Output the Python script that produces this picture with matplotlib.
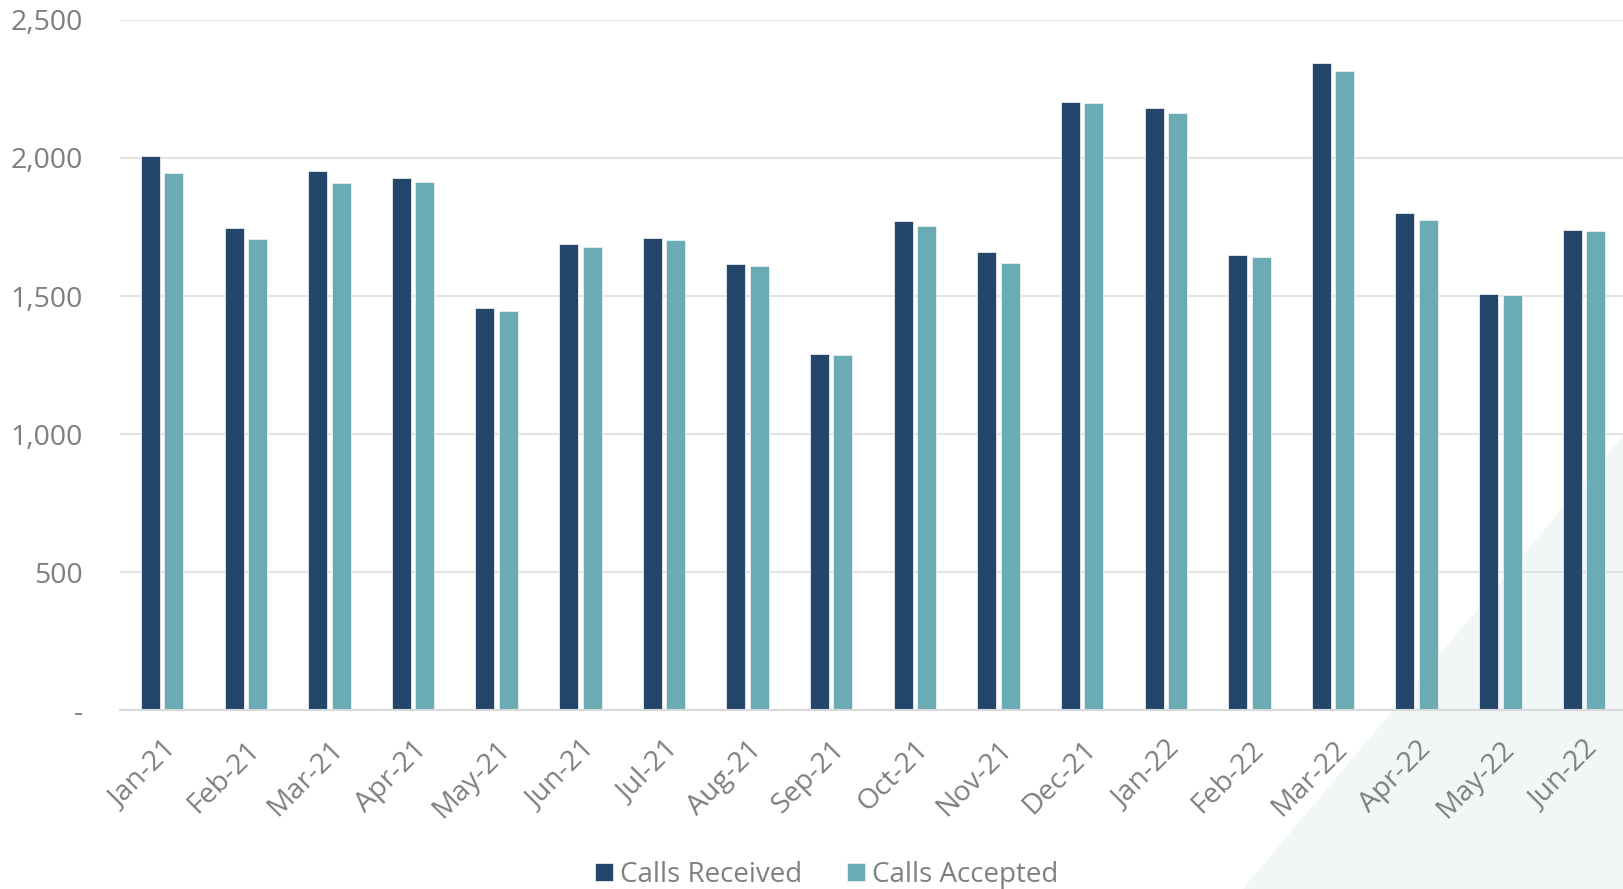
import matplotlib
matplotlib.use("Agg")
import matplotlib.pyplot as plt
from matplotlib.patches import Polygon
import numpy as np

months = ["Jan-21", "Feb-21", "Mar-21", "Apr-21", "May-21", "Jun-21",
          "Jul-21", "Aug-21", "Sep-21", "Oct-21", "Nov-21", "Dec-21",
          "Jan-22", "Feb-22", "Mar-22", "Apr-22", "May-22", "Jun-22"]
calls_received = [2006, 1746, 1953, 1929, 1455, 1688, 1711, 1617, 1289,
                  1770, 1660, 2204, 2179, 1650, 2345, 1802, 1506, 1738]
calls_accepted = [1945, 1707, 1908, 1911, 1446, 1678, 1702, 1608, 1285,
                  1755, 1620, 2197, 2164, 1640, 2316, 1776, 1503, 1734]
y_ticks = [0, 500, 1000, 1500, 2000, 2500]
y_tick_labels = ["-", "500", "1,000", "1,500", "2,000", "2,500"]

DARK = "#25466B"
TEAL = "#6AABB4"
TEXT = "#7F7F7F"
GRID = "#E3E3E3"

plt.rcParams["font.family"] = ["Open Sans", "DejaVu Sans"]

W, H = 1624, 889
fig = plt.figure(figsize=(W / 100, H / 100), dpi=100)
fig.patch.set_facecolor("white")

# background layer holding the pale wedge in the lower-right corner
bg = fig.add_axes([0, 0, 1, 1], zorder=-1)
bg.set_xlim(0, W)
bg.set_ylim(H, 0)
bg.axis("off")
bg.add_patch(Polygon([(1243, H), (W, 435), (W, H)], closed=True,
                     facecolor="#F1F6F6", edgecolor="none"))

ax = fig.add_axes([0.0741, 0.2008, 0.927, 0.7770], zorder=1)
ax.set_facecolor("none")

x = np.arange(len(months))
bw = 0.227
off = 0.14
ax.bar(x - off, calls_received, width=bw, color=DARK, edgecolor="#E8ECF0",
       linewidth=0.6, label="Calls Received", zorder=3)
ax.bar(x + off, calls_accepted, width=bw, color=TEAL, edgecolor="#E8F0F2",
       linewidth=0.6, label="Calls Accepted", zorder=3)

ax.set_xlim(-0.5, len(months) - 0.5)
ax.set_ylim(0, 2500)
ax.set_yticks(y_ticks)
ax.set_yticklabels(y_tick_labels)
ax.yaxis.grid(True, color=GRID, linewidth=1.5, zorder=0)
ax.set_axisbelow(True)

for side in ["top", "right", "left"]:
    ax.spines[side].set_visible(False)
ax.spines["bottom"].set_color("#D9D9D9")
ax.spines["bottom"].set_linewidth(1.5)
ax.spines["bottom"].set_zorder(4)

ax.tick_params(axis="y", length=0, pad=27, labelsize=20.5, labelcolor=TEXT)
ax.tick_params(axis="x", length=0, pad=18, labelsize=20.5, labelcolor=TEXT)
ax.set_xticks(x)
ax.set_xticklabels(months, rotation=45, ha="right", va="top",
                   rotation_mode="anchor")

leg = fig.legend(loc="center", bbox_to_anchor=(0.509, 0.016), ncol=2,
                 frameon=False, fontsize=20, labelcolor=TEXT,
                 handlelength=0.65, handleheight=0.65, handletextpad=0.25,
                 columnspacing=1.6)

fig.savefig("out.png", dpi=100, facecolor=fig.get_facecolor())
